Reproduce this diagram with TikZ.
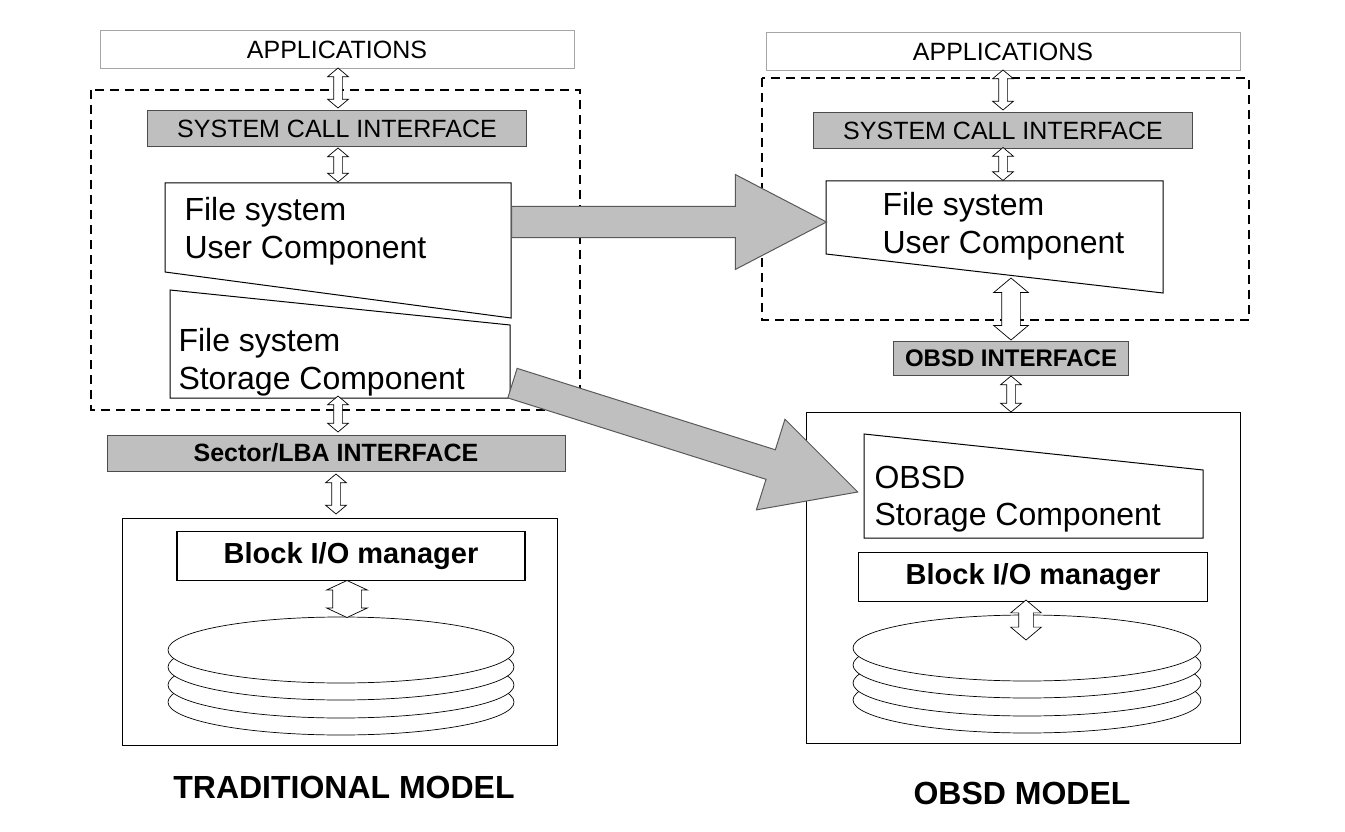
\documentclass[tikz,border=0pt]{standalone}
\usepackage{fontspec}
\setmainfont{Liberation Sans}
\usetikzlibrary{calc,shapes.arrows,positioning}

\begin{document}
\begin{tikzpicture}[x=1pt,y=-1pt,line width=1pt,
    layer/.style={draw=gray!70, fill=white, minimum height=38pt, font=\fontsize{25}{25}\selectfont},
    iface/.style={draw=gray!60!black, fill=gray!50, minimum height=36pt, font=\fontsize{25}{25}\selectfont},
    manager/.style={draw, line width=1.6pt, fill=white, minimum height=49pt, font=\fontsize{29}{29}\selectfont\bfseries},
    group/.style={draw, dashed, line width=1.8pt, dash pattern=on 9pt off 6pt},
    txt/.style={anchor=west, font=\fontsize{32}{32}\selectfont, inner sep=0pt},
    updown/.style={double arrow, draw, line width=0.7pt, fill=white, rotate=90, inner sep=0pt, inner ysep=4pt,
        double arrow head extend=6pt, double arrow tip angle=100},
    bigarrow/.style={single arrow, draw=gray!70!black, fill=gray!50, inner sep=0pt, inner ysep=15pt,
        single arrow head extend=32pt, single arrow tip angle=55, anchor=tail},
    title/.style={font=\fontsize{32}{32}\selectfont\bfseries}
    ]
    \useasboundingbox (0,0) rectangle (1345,832);

    % traditional model
    \node[layer, minimum width=474pt] (appL) at (337,50) {APPLICATIONS};
    \draw[group] (91,90) rectangle (580,410);
    \node[iface, minimum width=379pt] (sysL) at (337,129) {SYSTEM CALL INTERFACE};
    \draw (165,183) -- (511,183) -- (511,318) -- (165,272) -- cycle;
    \node[txt] (fsuL1) at (184,212) {File system};
    \node[txt] (fsuL2) at (184,251) {User Component};
    \draw (170,290) -- (510,325) -- (510,398) -- (170,398) -- cycle;
    \node[txt] (fssL1) at (178,343) {File system};
    \node[txt] (fssL2) at (178,382) {Storage Component};
    \node[iface, minimum width=458pt, font=\fontsize{25}{25}\selectfont\bfseries] (lba) at (336,453) {Sector/LBA INTERFACE};
    \draw (122,518) rectangle (557,745);
    \node[manager, minimum width=348pt] (bioL) at (351,556) {Block I/O manager};
    \foreach \cy in {702,685,667,650}
        \draw[fill=white, line width=0.7pt] (341,\cy) ellipse (173 and 33);
    \node[title] (tradL) at (344,787) {TRADITIONAL MODEL};

    \node[updown, minimum height=40pt] at (338,88) {};
    \node[updown, minimum height=34pt] at (338,165) {};
    \node[updown, minimum height=36pt] at (338,414) {};
    \node[updown, minimum height=40pt] at (336,494) {};
    \node[updown, minimum height=37pt, inner ysep=14pt, double arrow head extend=6pt, double arrow tip angle=130] at (347,599) {};

    % obsd model
    \node[layer, minimum width=474pt] (appR) at (1003,52) {APPLICATIONS};
    \draw[group] (762,78) rectangle (1249,320);
    \node[iface, minimum width=379pt] (sysR) at (1003,131) {SYSTEM CALL INTERFACE};
    \draw (826,181) -- (1163,181) -- (1163,293) -- (826,254) -- cycle;
    \node[txt] (fsuR1) at (882,207) {File system};
    \node[txt] (fsuR2) at (882,246) {User Component};
    \node[iface, minimum width=235pt, minimum height=34pt, font=\fontsize{24}{24}\selectfont\bfseries] (obsd) at (1011,358) {OBSD INTERFACE};
    \draw (806,412) rectangle (1240,743);
    \draw (864,434) -- (1203,470) -- (1203,538) -- (864,538) -- cycle;
    \node[txt] (ossR1) at (874,477) {OBSD};
    \node[txt] (ossR2) at (874,518) {Storage Component};
    \node[manager, minimum width=349pt] (bioR) at (1033,577) {Block I/O manager};
    \foreach \cy in {700,683,665,648}
        \draw[fill=white, line width=0.7pt] (1027,\cy) ellipse (174 and 33);
    \node[title] (tradR) at (1022,793) {OBSD MODEL};

    \node[updown, minimum height=40pt] at (1003,90) {};
    \node[updown, minimum height=33pt] at (1003,164) {};
    \node[updown, minimum height=62pt, inner ysep=9pt, double arrow head extend=8pt] at (1011,309) {};
    \node[updown, minimum height=36pt] at (1011,394) {};
    \node[updown, minimum height=40pt, inner ysep=7pt, double arrow head extend=8pt] at (1026,620) {};

    % mapping arrows
    \coordinate (m1) at (511,222);
    \coordinate (m2) at (512,383);
    \node[bigarrow, minimum height=315pt] at (m1) {};
    \node[bigarrow, minimum height=362pt, rotate=-17.5] at (m2) {};
\end{tikzpicture}
\end{document}
